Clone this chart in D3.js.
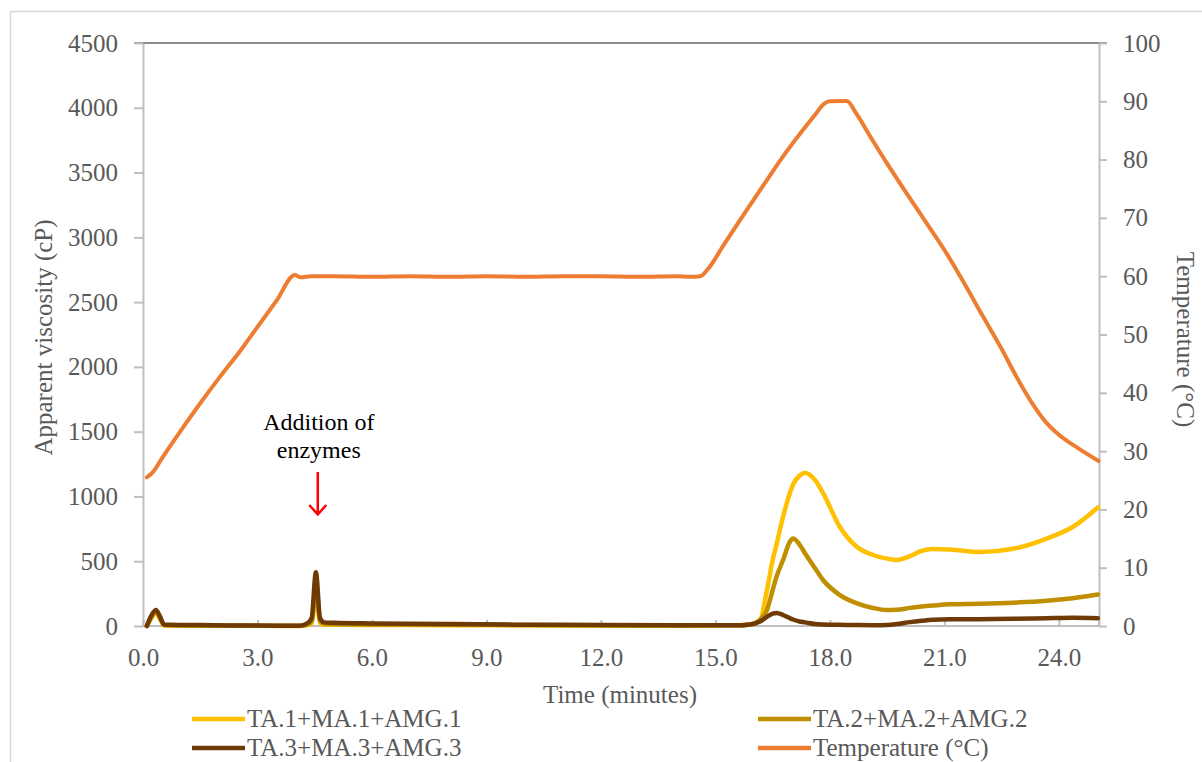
<!DOCTYPE html>
<html>
<head>
<meta charset="utf-8">
<script src="https://cdn.jsdelivr.net/npm/d3@7/dist/d3.min.js"></script>
<style>
  body { margin: 0; background: #fff; }
  svg { display: block; }
</style>
</head>
<body>
<svg id="chart" width="1202" height="762"></svg>
<script>
// --- data ---
const xTicks = [0, 3, 6, 9, 12, 15, 18, 21, 24];
const yLeftTicks = [0, 500, 1000, 1500, 2000, 2500, 3000, 3500, 4000, 4500];
const yRightTicks = [0, 10, 20, 30, 40, 50, 60, 70, 80, 90, 100];

const seriesNames = ["TA.1+MA.1+AMG.1", "TA.2+MA.2+AMG.2", "TA.3+MA.3+AMG.3", "Temperature (°C)"];
const seriesColors = ["#FFC000", "#BF8F00", "#6E3B06", "#ED7D31"];

// viscosity (cP), shared time axis (minutes)
const viscTime = [0.1, 0.2, 0.34, 0.45, 0.55, 0.7, 1.5, 3.0, 4.1, 4.3, 4.42, 4.53, 4.64, 4.75, 5.0,
  6, 8, 10, 12, 14, 15.5, 15.9, 16.17, 16.35, 16.5, 16.6, 16.77, 16.95, 17.03, 17.2, 17.35, 17.6,
  17.82, 18.26, 18.71, 19.13, 19.5, 19.75, 20.1, 20.4, 20.7, 21.14, 21.93, 22.8, 23.68, 24.36, 25.02];

const ta1 = [0, 50, 100, 50, 5, 4, 2, 1, 0, 5, 20, 250, 20, 10, 10,
  8, 6, 5, 3, 2, 5, 12, 46, 278, 509, 630, 841, 1026, 1090, 1160, 1181, 1130,
  1026, 764, 610, 548, 520, 509, 540, 580, 594, 590, 571, 596, 675, 764, 915];

const ta2 = [0, 60, 110, 60, 8, 6, 4, 2, 1, 10, 40, 300, 40, 18, 15,
  12, 10, 8, 5, 3, 5, 10, 50, 123, 278, 380, 509, 650, 675, 630, 560, 450,
  355, 239, 175, 139, 123, 125, 140, 150, 158, 168, 172, 180, 195, 215, 243];

const ta3 = [0, 70, 123, 70, 12, 10, 7, 3, 2, 20, 60, 415, 60, 28, 25,
  20, 15, 10, 8, 5, 5, 12, 35, 70, 95, 100, 85, 60, 50, 35, 28, 16,
  12, 9, 7, 6, 8, 15, 30, 40, 48, 52, 53, 55, 60, 63, 60];

// temperature (°C)
const tempTime = [0.1, 0.26, 0.5, 1.0, 1.5, 2.0, 2.56, 3.0, 3.5, 3.98, 4.13, 4.4, 5, 6, 7, 8, 9, 10,
  11, 12, 13, 14, 14.35, 14.6, 14.8, 15.2, 15.6, 16.0, 16.4, 16.8, 17.2, 17.6, 17.85, 18.0, 18.44,
  18.7, 19.1, 19.5, 20.0, 20.5, 21.0, 21.5, 22.0, 22.5, 22.9, 23.3, 23.68, 24.0, 24.5, 25.04];
const tempValues = [25.5, 26.4, 28.8, 33.6, 38.2, 42.6, 47.3, 51.3, 55.8, 60.2, 59.8, 60.0, 60.0, 59.9,
  60, 59.9, 60, 59.9, 60, 60, 59.9, 60, 59.9, 60.0, 61.2, 65.2, 69.2, 73.1, 77.0, 80.8, 84.3, 87.6,
  89.6, 90.0, 90.05, 87.8, 83.5, 79.3, 74.3, 69.4, 64.5, 59.0, 53.2, 47.5, 42.6, 38.2, 34.8, 32.8,
  30.5, 28.3];

// --- layout ---
const W = 1202, H = 762;
const PL = 143, PR = 1099, PT = 43, PB = 626;
const FONT = "'Liberation Serif', 'Times New Roman', serif";
const FS = 25;
const AXIS_GRAY = "#BFBFBF";
const TEXT_GRAY = "#595959";

const svg = d3.select("#chart");

// outer chart border
svg.append("rect")
  .attr("x", 10.5).attr("y", 11.5)
  .attr("width", W + 20).attr("height", H + 20)
  .attr("fill", "none").attr("stroke", "#D9D9D9").attr("stroke-width", 1.5);

const x = d3.scaleLinear().domain([0, 25.05]).range([PL, PR]);
const yL = d3.scaleLinear().domain([0, 4500]).range([PB, PT]);
const yR = d3.scaleLinear().domain([0, 100]).range([PB, PT]);

function styleAxis(g) {
  g.select(".domain").attr("stroke", AXIS_GRAY).attr("stroke-width", 2);
  g.selectAll(".tick line").attr("stroke", AXIS_GRAY).attr("stroke-width", 2);
  g.selectAll(".tick text")
    .attr("fill", TEXT_GRAY)
    .attr("font-family", FONT)
    .attr("font-size", FS);
}

// top edge of the plot area
svg.append("line")
  .attr("x1", PL - 9).attr("x2", PR + 8)
  .attr("y1", PT).attr("y2", PT)
  .attr("stroke", "#8C8C8C").attr("stroke-width", 2);

// left axis
svg.append("g")
  .attr("transform", `translate(${PL},0)`)
  .call(d3.axisLeft(yL).tickValues(yLeftTicks).tickSize(9).tickSizeOuter(0).tickPadding(16).tickFormat(d3.format("d")))
  .call(styleAxis);

// right axis
svg.append("g")
  .attr("transform", `translate(${PR},0)`)
  .call(d3.axisRight(yR).tickValues(yRightTicks).tickSize(8).tickSizeOuter(0).tickPadding(16).tickFormat(d3.format("d")))
  .call(styleAxis);

// bottom axis, ticks point inward
const gx = svg.append("g")
  .attr("transform", `translate(0,${PB})`)
  .call(d3.axisBottom(x).tickValues(xTicks).tickSizeInner(-6).tickSizeOuter(0).tickPadding(22).tickFormat(d3.format(".1f")))
  .call(styleAxis);
gx.select(".domain").attr("d", `M${PL},0H${PR}`);
gx.append("line")
  .attr("x1", PR).attr("x2", PR).attr("y1", 0).attr("y2", -6)
  .attr("stroke", AXIS_GRAY).attr("stroke-width", 2);

// axis titles
svg.append("text")
  .attr("transform", `translate(52,${(PT + PB) / 2 + 3}) rotate(-90)`)
  .attr("text-anchor", "middle")
  .attr("fill", TEXT_GRAY).attr("font-family", FONT).attr("font-size", FS)
  .text("Apparent viscosity (cP)");

svg.append("text")
  .attr("transform", `translate(1177,${(PT + PB) / 2 + 5}) rotate(90)`)
  .attr("text-anchor", "middle")
  .attr("fill", TEXT_GRAY).attr("font-family", FONT).attr("font-size", FS)
  .text("Temperature (°C)");

svg.append("text")
  .attr("x", (PL + PR) / 2 - 1).attr("y", 703)
  .attr("text-anchor", "middle")
  .attr("fill", TEXT_GRAY).attr("font-family", FONT).attr("font-size", FS)
  .text("Time (minutes)");

// lines
const lineL = d3.line().x(d => x(d[0])).y(d => yL(d[1])).curve(d3.curveMonotoneX);
const lineR = d3.line().x(d => x(d[0])).y(d => yR(d[1])).curve(d3.curveMonotoneX);

const viscSeries = [ta1, ta2, ta3];
viscSeries.forEach((vals, i) => {
  svg.append("path")
    .datum(viscTime.map((t, j) => [t, vals[j]]))
    .attr("d", lineL)
    .attr("fill", "none")
    .attr("stroke", seriesColors[i])
    .attr("stroke-width", 4.5)
    .attr("stroke-linejoin", "round")
    .attr("stroke-linecap", "round");
});

svg.append("path")
  .datum(tempTime.map((t, j) => [t, tempValues[j]]))
  .attr("d", lineR)
  .attr("fill", "none")
  .attr("stroke", seriesColors[3])
  .attr("stroke-width", 4)
  .attr("stroke-linejoin", "round")
  .attr("stroke-linecap", "round");

// annotation
const noteX = x(4.58);
const note = svg.append("text")
  .attr("text-anchor", "middle")
  .attr("fill", "#000").attr("font-family", FONT).attr("font-size", 24);
note.append("tspan").attr("x", noteX + 1).attr("y", 430).text("Addition of");
note.append("tspan").attr("x", noteX + 1).attr("y", 458).text("enzymes");

svg.append("path")
  .attr("d", `M${noteX},472V514M${noteX - 8.5},505L${noteX},514.5L${noteX + 8.5},505`)
  .attr("fill", "none").attr("stroke", "#FF0000").attr("stroke-width", 2.5);

// legend
const legendPos = [[192, 719], [758, 719], [192, 748], [758, 748]];
seriesNames.forEach((name, i) => {
  const [lx, ly] = legendPos[i];
  svg.append("line")
    .attr("x1", lx).attr("x2", lx + 53)
    .attr("y1", ly).attr("y2", ly)
    .attr("stroke", seriesColors[i]).attr("stroke-width", 4.5);
  svg.append("text")
    .attr("x", lx + 55).attr("y", ly + 8)
    .attr("fill", TEXT_GRAY).attr("font-family", FONT).attr("font-size", FS)
    .text(name);
});
</script>
</body>
</html>
